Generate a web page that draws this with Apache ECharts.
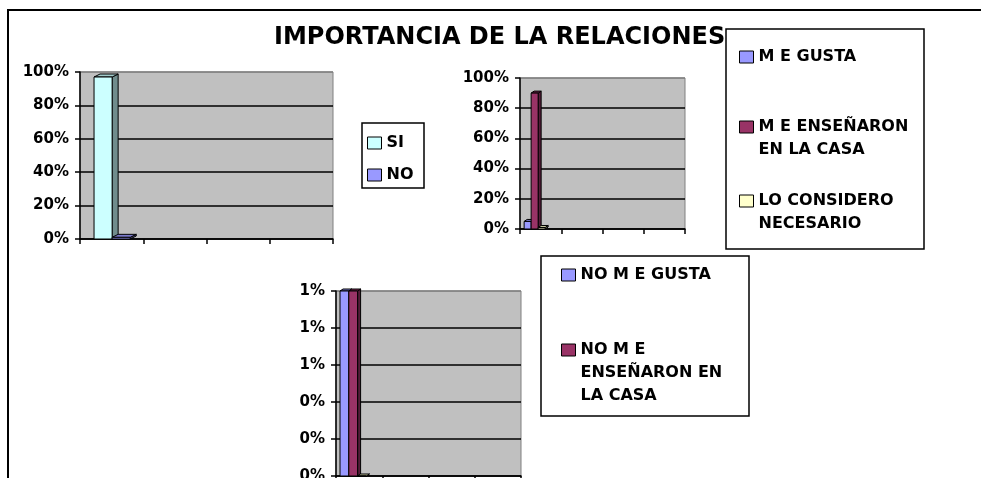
<!DOCTYPE html>
<html>
<head>
<meta charset="utf-8">
<script src="https://cdn.jsdelivr.net/npm/echarts@6/dist/echarts.min.js"></script>
<style>
  html, body { margin: 0; padding: 0; background: #fff; }
  #chart { width: 981px; height: 478px; }
</style>
</head>
<body>
<div id="chart"></div>
<script>
// datos
const categories = ['1', '2', '3', '4'];

// grafico 1
const names1 = ['SI', 'NO'];
const siValues = [97, null, null, null];
const noValues = [1, null, null, null];

// grafico 2
const names2 = ['M E GUSTA', 'M E ENSEÑARON\nEN LA CASA', 'LO CONSIDERO\nNECESARIO'];
const meGusta = [5, null, null, null];
const meEnsenaron = [90, null, null, null];
const loConsidero = [1, null, null, null];

// grafico 3
const names3 = ['NO M E GUSTA', 'NO M E\nENSEÑARON EN\nLA CASA'];
const noMeGusta = [1, null, null, null];
const noMeEnsenaron = [1, null, null, null];
const otroValues = [0, null, null, null];

const colors = { cyan: '#CCFFFF', blue: '#9999FF', maroon: '#993366', yellow: '#FFFFCC' };
const FONT = 'DejaVu Sans';

const shade = (hex, f) => {
  const n = parseInt(hex.slice(1), 16);
  const r = Math.round(((n >> 16) & 255) * f);
  const g = Math.round(((n >> 8) & 255) * f);
  const b = Math.round((n & 255) * f);
  return 'rgb(' + r + ',' + g + ',' + b + ')';
};

// barra "3D" dibujada con las escalas del eje
const bar3d = (idx, widthFrac, startFrac, dx, dy, color) => {
  const sideColor = shade(color, 0.55);
  const topColor = shade(color, 0.8);
  return function (params, api) {
    const val = api.value(1);
    if (isNaN(val)) return null;
    const cat = api.value(0);
    const base = api.coord([cat, 0]);
    const top = api.coord([cat, val]);
    const band = api.size([1, 0])[0];
    const w = band * widthFrac;
    const x0 = base[0] - band / 2 + band * startFrac + idx * w;
    const x1 = x0 + w;
    const y0 = top[1];
    const yb = base[1];
    const line = { stroke: '#000', lineWidth: 1 };
    return {
      type: 'group',
      children: [
        { type: 'polygon', shape: { points: [[x1, y0], [x1 + dx, y0 - dy], [x1 + dx, yb - dy], [x1, yb]] },
          style: Object.assign({ fill: sideColor }, line) },
        { type: 'polygon', shape: { points: [[x0, y0], [x0 + dx, y0 - dy], [x1 + dx, y0 - dy], [x1, y0]] },
          style: Object.assign({ fill: topColor }, line) },
        { type: 'rect', shape: { x: x0, y: y0, width: w, height: yb - y0 },
          style: Object.assign({ fill: color }, line) }
      ]
    };
  };
};

const toData = (arr) => arr.map((v, i) => [i, v]);

const makeSeries = (name, values, axis, idx, widthFrac, startFrac, dx, dy, color) => ({
  name: name,
  type: 'custom',
  xAxisIndex: axis,
  yAxisIndex: axis,
  itemStyle: { color: color },
  encode: { x: 0, y: 1 },
  data: toData(values),
  renderItem: bar3d(idx, widthFrac, startFrac, dx, dy, color),
  silent: true
});

const gridStyle = {
  show: true,
  backgroundColor: '#C0C0C0',
  borderColor: '#808080',
  borderWidth: 1,
  outerBoundsMode: 'none',
  containLabel: false
};

const xAxisBase = (grid) => ({
  type: 'category',
  gridIndex: grid,
  data: categories,
  boundaryGap: true,
  axisLine: { lineStyle: { color: '#000', width: 1.5 } },
  axisTick: { show: true, length: 5, lineStyle: { color: '#000', width: 1.5 } },
  axisLabel: { show: false },
  splitLine: { show: false }
});

const yAxisBase = (grid, max, interval, fmt) => ({
  type: 'value',
  gridIndex: grid,
  min: 0,
  max: max,
  interval: interval,
  axisLine: { show: true, lineStyle: { color: '#000', width: 1.5 } },
  axisTick: { show: true, length: 5, lineStyle: { color: '#000', width: 1.5 } },
  axisLabel: { color: '#000', fontFamily: FONT, fontWeight: 'bold', fontSize: 15, margin: 11, formatter: fmt },
  splitLine: { show: true, lineStyle: { color: ['#000', '#000', '#000', '#000', '#000', '#808080'], width: 1.5 } }
});

// las lineas vacias delante dejan el icono a la altura de la primera linea
const legendItem = (name, color, left, top) => {
  const extra = name.split('\n').length - 1;
  return {
    left: left,
    top: top,
    padding: 0,
    orient: 'vertical',
    selectedMode: false,
    icon: 'rect',
    itemWidth: 14,
    itemHeight: 12,
    data: [{ name: name, itemStyle: { color: color, borderColor: '#000', borderWidth: 1 } }],
    formatter: (n) => '\n'.repeat(extra) + n,
    textStyle: {
      color: '#000', fontFamily: FONT, fontWeight: 'bold', fontSize: 16,
      lineHeight: extra ? 23 : 12
    }
  };
};

const pctFmt = (v) => v + '%';
const roundFmt = (v) => Math.round(v) + '%';

const myChart = echarts.init(document.getElementById('chart'));

const option = {
  animation: false,
  backgroundColor: '#fff',
  title: {
    text: 'IMPORTANCIA DE LA RELACIONES',
    left: 274,
    top: 26,
    padding: 0,
    textStyle: { color: '#000', fontFamily: FONT, fontWeight: 'bold', fontSize: 24 }
  },
  grid: [
    Object.assign({ left: 80, top: 72, width: 253, height: 167 }, gridStyle),
    Object.assign({ left: 520, top: 78, width: 165, height: 151 }, gridStyle),
    Object.assign({ left: 336, top: 291, width: 185, height: 185 }, gridStyle)
  ],
  xAxis: [xAxisBase(0), xAxisBase(1), xAxisBase(2)],
  yAxis: [
    yAxisBase(0, 100, 20, pctFmt),
    yAxisBase(1, 100, 20, pctFmt),
    yAxisBase(2, 1, 0.2, roundFmt)
  ],
  legend: [
    legendItem(names1[0], colors.cyan, 367, 135),
    legendItem(names1[1], colors.blue, 367, 167),
    legendItem(names2[0], colors.blue, 739, 49),
    legendItem(names2[1], colors.maroon, 739, 121 - 28.5),
    legendItem(names2[2], colors.yellow, 739, 195 - 28.5),
    legendItem(names3[0], colors.blue, 561, 267),
    legendItem(names3[1], colors.maroon, 561, 344 - 51.5)
  ],
  graphic: [
    { type: 'rect', silent: true, shape: { x: 8, y: 10, width: 1000, height: 500 },
      style: { fill: 'none', stroke: '#000', lineWidth: 2 } },
    { type: 'rect', silent: true, shape: { x: 362, y: 123, width: 62, height: 65 },
      style: { fill: 'none', stroke: '#000', lineWidth: 1.5 } },
    { type: 'rect', silent: true, shape: { x: 726, y: 29, width: 198, height: 220 },
      style: { fill: 'none', stroke: '#000', lineWidth: 1.5 } },
    { type: 'rect', silent: true, shape: { x: 541, y: 256, width: 208, height: 160 },
      style: { fill: 'none', stroke: '#000', lineWidth: 1.5 } }
  ],
  series: [
    makeSeries(names1[0], siValues, 0, 0, 0.286, 0.222, 6, 3, colors.cyan),
    makeSeries(names1[1], noValues, 0, 1, 0.286, 0.222, 6, 3, colors.blue),
    makeSeries(names2[0], meGusta, 1, 0, 0.17, 0.1, 3, 2, colors.blue),
    makeSeries(names2[1], meEnsenaron, 1, 1, 0.17, 0.1, 3, 2, colors.maroon),
    makeSeries(names2[2], loConsidero, 1, 2, 0.17, 0.1, 3, 2, colors.yellow),
    makeSeries(names3[0], noMeGusta, 2, 0, 0.19, 0.087, 3, 2, colors.blue),
    makeSeries(names3[1], noMeEnsenaron, 2, 1, 0.19, 0.087, 3, 2, colors.maroon),
    makeSeries('', otroValues, 2, 2, 0.19, 0.087, 3, 2, colors.yellow)
  ]
};

option && myChart.setOption(option);
</script>
</body>
</html>
